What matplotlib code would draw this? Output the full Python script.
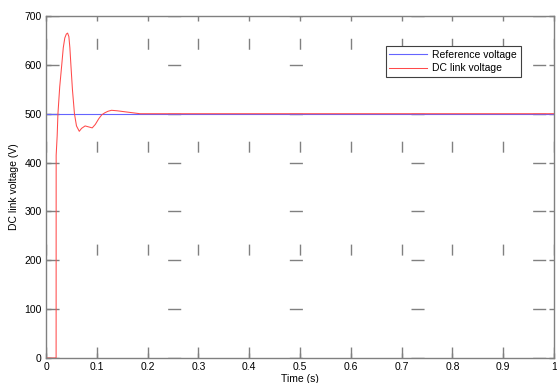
import matplotlib
matplotlib.use("Agg")
import matplotlib.pyplot as plt

plt.rcParams['font.family'] = ['Liberation Sans', 'DejaVu Sans']

# reference voltage
t_ref = [0.0, 1.0]
v_ref = [500, 500]

# dc link voltage
t_dc = [0.0, 0.0199, 0.020, 0.022, 0.0235, 0.027, 0.031, 0.034, 0.037, 0.040,
        0.0425, 0.045, 0.047, 0.049, 0.052, 0.056, 0.060, 0.0655, 0.070, 0.077,
        0.084, 0.091, 0.097, 0.104, 0.110, 0.116, 0.122, 0.129, 0.140, 0.155,
        0.170, 0.185, 1.0]
v_dc = [0, 0, 415, 455, 500, 555, 600, 635, 655, 663,
        665, 658, 635, 600, 550, 500, 475, 464, 470, 475,
        473, 471, 478, 490, 498, 502, 505, 507, 506, 504,
        502, 500, 500]

xticks = [0, 0.1, 0.2, 0.3, 0.4, 0.5, 0.6, 0.7, 0.8, 0.9, 1]
xlabels = ['0', '0.1', '0.2', '0.3', '0.4', '0.5', '0.6', '0.7', '0.8', '0.9', '1']
yticks = [0, 100, 200, 300, 400, 500, 600, 700]

fig = plt.figure(figsize=(5.57, 3.83), dpi=100)
ax = fig.add_axes([46/557, 25/383, 508/557, 342/383])

gray = '#808080'
ax.plot(t_ref, v_ref, color='#6464ff', lw=0.8, label='Reference voltage')
ax.plot(t_dc, v_dc, color='#ff4a4a', lw=0.75, label='DC link voltage')

ax.set_xlim(0, 1)
ax.set_ylim(0, 700)
ax.set_xticks(xticks)
ax.set_xticklabels(xlabels)
ax.set_yticks(yticks)

ax.xaxis.grid(True, color=gray, lw=1, linestyle=(0, (7.9, 66.2)))
ax.yaxis.grid(True, color=gray, lw=1, linestyle=(0, (9.4, 78.2)))
ax.set_axisbelow(True)

for s in ax.spines.values():
    s.set_color(gray)
    s.set_linewidth(1)
ax.tick_params(direction='in', length=3.5, width=1, color=gray,
               top=True, right=True, labelsize=7.5, pad=3)

ax.set_xlabel('Time (s)', fontsize=7.5, labelpad=1)
ax.set_ylabel('DC link voltage (V)', fontsize=7.5, labelpad=4)

leg = ax.legend(loc='upper left', bbox_to_anchor=(0.669, 0.912), fontsize=7.5,
                fancybox=False, framealpha=1, edgecolor='#404040',
                handlelength=3.6, borderpad=0.35, labelspacing=0.35,
                handletextpad=0.5, borderaxespad=0)
leg.get_frame().set_linewidth(0.8)

fig.savefig('out.png', dpi=100)
